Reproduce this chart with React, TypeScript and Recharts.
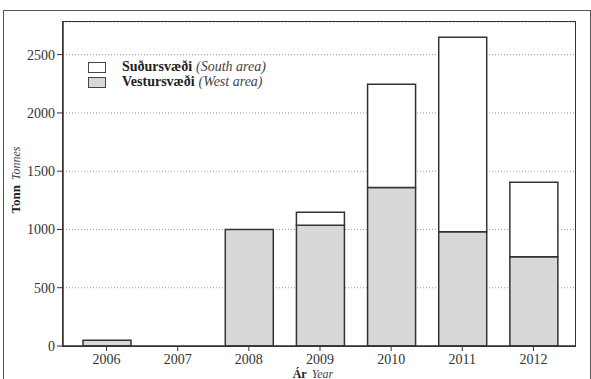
import { BarChart, Bar, XAxis, YAxis, CartesianGrid, Legend, Label } from 'recharts';

const years = ['2006', '2007', '2008', '2009', '2010', '2011', '2012'];
const westArea = [50, 0, 1000, 1035, 1360, 980, 765];
const southArea = [0, 0, 0, 112, 885, 1670, 640];
const yTicks = [0, 500, 1000, 1500, 2000, 2500];

const chartData = years.map((year, i) => ({
  year,
  west: westArea[i],
  south: southArea[i],
}));

const serif = '"Liberation Serif", "DejaVu Serif", serif';

function LegendBox() {
  const items = [
    { bold: 'Suðursvæði', italic: '(South area)', fill: '#ffffff' },
    { bold: 'Vestursvæði', italic: '(West area)', fill: '#d8d8d8' },
  ];
  return (
    <div style={{ fontFamily: serif, fontSize: 14, color: '#222', lineHeight: '15px' }}>
      {items.map((it) => (
        <div key={it.bold} style={{ position: 'relative', height: 15, whiteSpace: 'nowrap' }}>
          <span
            style={{
              position: 'absolute',
              left: 0,
              top: 3,
              width: 16,
              height: 9,
              border: '1px solid #444',
              background: it.fill,
            }}
          />
          <span style={{ position: 'absolute', left: 34, top: 0 }}>
            <b>{it.bold}</b>
            <i style={{ marginLeft: 4, color: '#444' }}>{it.italic}</i>
          </span>
        </div>
      ))}
    </div>
  );
}

export default function App() {
  return (
    <div style={{ position: 'absolute', left: 0, top: 0, width: 591, height: 379, background: '#fff', overflow: 'hidden' }}>
      <BarChart
        width={591}
        height={379}
        data={chartData}
        margin={{ top: 22, right: 16, bottom: 13, left: 23 }}
        barSize={48}
        style={{ fontFamily: serif }}
      >
        <CartesianGrid vertical={false} stroke="#999" strokeDasharray="1 2" />
        <XAxis
          dataKey="year"
          height={20}
          padding={{ left: 8, right: 6 }}
          tick={{ fill: '#333', fontSize: 14, fontFamily: serif }}
          tickLine={{ stroke: '#333' }}
          tickSize={5}
          tickMargin={3}
          axisLine={{ stroke: '#333', strokeWidth: 1.5 }}
        >
          <Label
            content={() => (
              <text x={313} y={377.5} textAnchor="middle" fontFamily={serif} fill="#222">
                <tspan fontWeight="bold" fontSize={12}>Ár</tspan>
                <tspan fontStyle="italic" fontSize={12} dx={5} fill="#444">Year</tspan>
              </text>
            )}
          />
        </XAxis>
        <YAxis
          domain={[0, 2780]}
          ticks={yTicks}
          width={40}
          tick={{ fill: '#333', fontSize: 14, fontFamily: serif }}
          tickLine={{ stroke: '#333' }}
          tickSize={6}
          axisLine={{ stroke: '#333', strokeWidth: 1.5 }}
          allowDataOverflow
        >
          <Label
            content={() => {
              const cx = 20;
              const cy = 180;
              return (
                <text x={cx} y={cy} textAnchor="middle" transform={`rotate(-90 ${cx} ${cy})`} fontFamily={serif} fill="#222">
                  <tspan fontWeight="bold" fontSize={13}>Tonn</tspan>
                  <tspan fontStyle="italic" fontSize={12} dx={5} fill="#444">Tonnes</tspan>
                </text>
              );
            }}
          />
        </YAxis>
        <Legend
          content={<LegendBox />}
          layout="horizontal"
          verticalAlign="middle"
          align="center"
          wrapperStyle={{ position: 'absolute', left: 88, top: 59, width: 260 }}
        />
        <Bar dataKey="west" stackId="a" fill="#d8d8d8" stroke="#333" strokeWidth={1.5} isAnimationActive={false} />
        <Bar dataKey="south" stackId="a" fill="#ffffff" stroke="#333" strokeWidth={1.5} isAnimationActive={false} />
      </BarChart>
      <div
        style={{
          position: 'absolute',
          left: 3,
          top: 10,
          width: 586,
          height: 400,
          border: '1px solid #555',
          pointerEvents: 'none',
        }}
      />
      <div
        style={{
          position: 'absolute',
          left: 62,
          top: 21,
          width: 512,
          height: 324,
          border: '1.5px solid #333',
          pointerEvents: 'none',
        }}
      />
    </div>
  );
}
